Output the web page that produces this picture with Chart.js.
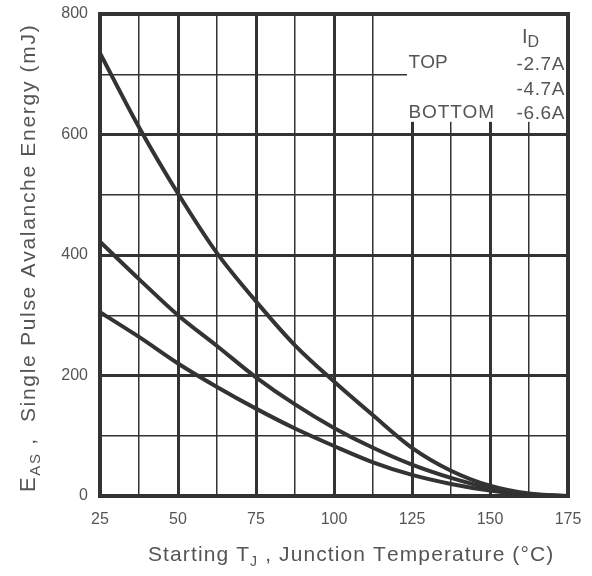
<!DOCTYPE html>
<html>
<head>
<meta charset="utf-8">
<script src="https://cdn.jsdelivr.net/npm/chart.js@4"></script>
<style>
  html, body { margin: 0; padding: 0; background: #fff; }
  #wrap { width: 592px; height: 576px; }
</style>
</head>
<body>
<div id="wrap"><canvas id="c"></canvas></div>
<script>
// starting junction temperature (°C)
const tj = [25, 37.5, 50, 62.5, 75, 87.5, 100, 112.5, 125, 137.5, 150, 162.5, 175];
// single pulse avalanche energy (mJ) per drain current
const easTop = [735, 612, 502, 403, 323, 250, 190, 134, 80, 42, 17, 4, 0];
const easMid = [422, 360, 300, 249, 197, 152, 113, 80, 52, 30, 13, 3, 0];
const easBot = [305, 264, 220, 181, 145, 112, 83, 56, 35, 20, 9, 2, 0];
const currents = ["-2.7A", "-4.7A", "-6.6A"];

const ink = "#333";
const textGray = "#555";
const fontName = "'Liberation Sans', Arial, sans-serif";

function toPoints(ys) {
    return tj.map((x, i) => ({ x: x, y: ys[i] }));
}

// draws runs of [text, size, dy] stretched to a given width
function drawRuns(ctx, runs, x, y, width, align) {
    const widths = runs.map((r) => {
        ctx.font = r[1] + "px " + fontName;
        return ctx.measureText(r[0]).width;
    });
    const nChars = runs.reduce((s, r) => s + r[0].length, 0);
    const raw = widths.reduce((s, w) => s + w, 0);
    const spacing = width ? (width - raw) / nChars : 0;
    const total = raw + spacing * nChars;
    let cx = align === "center" ? x - total / 2 : x;
    runs.forEach((r) => {
        ctx.font = r[1] + "px " + fontName;
        for (const ch of r[0]) {
            ctx.fillText(ch, cx, y + (r[2] || 0));
            cx += ctx.measureText(ch).width + spacing;
        }
    });
}

const decor = {
    id: "decor",
    beforeDatasetsDraw(chart) {
        const { ctx, chartArea, scales } = chart;
        // legend area sits in a blank patch of the grid
        const x0 = scales.x.getPixelForValue(123.4);
        const y1 = scales.y.getPixelForValue(621);
        const { top, right } = chartArea;
        ctx.save();
        ctx.fillStyle = "#fff";
        ctx.fillRect(x0, top - 6, right + 6 - x0, y1 - top + 6);
        // put the frame back over the cleared patch
        ctx.strokeStyle = ink;
        ctx.lineWidth = 4;
        ctx.beginPath();
        ctx.moveTo(x0 - 1, top);
        ctx.lineTo(right, top);
        ctx.lineTo(right, y1 + 1);
        ctx.stroke();
        ctx.restore();
    },
    afterDraw(chart) {
        const { ctx, chartArea, scales } = chart;
        ctx.save();
        ctx.fillStyle = textGray;
        ctx.textBaseline = "alphabetic";
        ctx.textAlign = "left";

        // x title
        drawRuns(ctx, [["Starting T", 21], ["J", 14, 5], [" , Junction Temperature (°C)", 21]],
            350, 561, 404, "center");

        // y title (rotated)
        ctx.save();
        ctx.translate(35, 258);
        ctx.rotate(-Math.PI / 2);
        drawRuns(ctx, [["E", 22], ["AS", 15, 5], [" ,  Single Pulse Avalanche Energy (mJ)", 21]],
            0, 0, 468, "center");
        ctx.restore();

        // legend
        const lx = scales.x.getPixelForValue(123.9);
        drawRuns(ctx, [["TOP", 19]], lx, 68, 0);
        drawRuns(ctx, [["BOTTOM", 19]], lx, 118, 86);
        drawRuns(ctx, [["I", 20], ["D", 16, 4]], 522, 43, 0);
        const rx = chartArea.right - 3;
        const rows = [70, 95, 119];
        currents.forEach((c, i) => {
            ctx.font = "19px " + fontName;
            const w = ctx.measureText(c).width + c.length * 0.6;
            drawRuns(ctx, [[c, 19]], rx - w, rows[i], w);
        });
        ctx.restore();
    }
};

const line = (ys) => ({
    data: toPoints(ys),
    borderColor: ink,
    borderWidth: 4,
    pointRadius: 0,
    cubicInterpolationMode: "monotone",
    fill: false,
});

const gridWidth = (major, ends) => (c) => {
    if (!c.tick) return 1.5;
    const v = c.tick.value;
    if (ends.includes(v)) return 4;
    return v % major === 0 ? 3 : 1.5;
};

new Chart(document.getElementById("c"), {
    type: "line",
    data: {
        datasets: [line(easTop), line(easMid), line(easBot)],
    },
    options: {
        responsive: true,
        maintainAspectRatio: false,
        animation: false,
        layout: { padding: { top: 14, right: 24, left: 0, bottom: 0 } },
        plugins: {
            legend: { display: false },
            tooltip: { enabled: false },
        },
        scales: {
            x: {
                type: "linear",
                min: 25,
                max: 175,
                ticks: {
                    stepSize: 12.5,
                    autoSkip: false,
                    maxRotation: 0,
                    padding: 14,
                    color: textGray,
                    font: { family: fontName, size: 16 },
                    callback: (v) => (v % 25 === 0 ? String(v) : ""),
                },
                grid: {
                    color: ink,
                    drawTicks: false,
                    lineWidth: gridWidth(25, [25, 175]),
                },
                border: { color: ink, width: 4 },
                afterFit: (s) => {
                    s.height = 80;
                    s.paddingLeft = 0;
                    s.paddingRight = 0;
                },
            },
            y: {
                min: 0,
                max: 800,
                ticks: {
                    stepSize: 100,
                    autoSkip: false,
                    padding: 12,
                    color: textGray,
                    font: { family: fontName, size: 16 },
                    callback: (v) => (v % 200 === 0 ? String(v) : ""),
                },
                grid: {
                    color: ink,
                    drawTicks: false,
                    lineWidth: gridWidth(200, [0, 800]),
                },
                border: { color: ink, width: 4 },
                afterFit: (s) => {
                    s.width = 100;
                    s.paddingTop = 0;
                    s.paddingBottom = 0;
                },
            },
        },
    },
    plugins: [decor],
});
</script>
</body>
</html>
